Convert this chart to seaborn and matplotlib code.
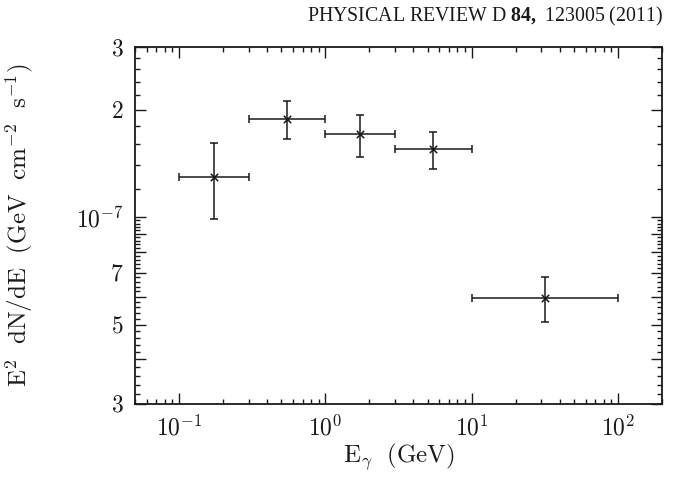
import numpy as np
import matplotlib
matplotlib.use("Agg")
import matplotlib.pyplot as plt
import seaborn as sns
from matplotlib.ticker import FixedLocator, NullFormatter

# ---- data ----
e_lo = [0.1, 0.3, 1.0, 3.0, 10.0]
e_hi = [0.3, 1.0, 3.0, 10.0, 100.0]
e_c = [0.173, 0.548, 1.73, 5.48, 31.6]
flux = [1.30e-7, 1.886e-7, 1.708e-7, 1.551e-7, 0.594e-7]
flux_hi = [1.61e-7, 2.113e-7, 1.939e-7, 1.734e-7, 0.680e-7]
flux_lo = [0.987e-7, 1.661e-7, 1.476e-7, 1.364e-7, 0.510e-7]

x_ticks = [0.1, 1, 10, 100]
x_ticklabels = [r'$10^{-1}$', r'$10^{0}$', r'$10^{1}$', r'$10^{2}$']
y_major = [3e-8, 4e-8, 5e-8, 6e-8, 7e-8, 8e-8, 9e-8, 1e-7, 2e-7, 3e-7]
y_ticklabels = [r'$3$', '', r'$5$', '', r'$7$', '', '', r'$10^{-7}$', r'$2$', r'$3$']

sns.set_theme(style='ticks')
plt.rcParams['font.family'] = ['Liberation Serif', 'DejaVu Serif']
plt.rcParams['mathtext.fontset'] = 'custom'
plt.rcParams['mathtext.rm'] = 'Liberation Serif'
plt.rcParams['mathtext.bf'] = 'Liberation Serif:bold'

ink = '#1a1a1a'
fig = plt.figure(figsize=(6.84, 4.8), dpi=100)
ax = fig.add_axes([135/684, 1-404/480, (662-135)/684, (404-47)/480])

xerr = [np.array(e_c) - np.array(e_lo), np.array(e_hi) - np.array(e_c)]
yerr = [np.array(flux) - np.array(flux_lo), np.array(flux_hi) - np.array(flux)]
ax.errorbar(e_c, flux, xerr=xerr, yerr=yerr, fmt='none', ecolor=ink,
            elinewidth=1.1, capsize=3, capthick=1.1)
sns.scatterplot(x=e_c, y=flux, marker='x', color=ink, s=28, linewidth=1.1, ax=ax,
                zorder=3)

ax.set_xscale('log')
ax.set_yscale('log')
ax.set_xlim(0.05, 200)
ax.set_ylim(3e-8, 3e-7)

# x ticks
ax.xaxis.set_major_locator(FixedLocator(x_ticks))
ax.set_xticklabels(x_ticklabels, math_fontfamily='cm', fontsize=17, color=ink)
xminor = [m * 10.0**k for k in range(-2, 3) for m in range(2, 10)]
ax.xaxis.set_minor_locator(FixedLocator([v for v in xminor if 0.05 <= v <= 200]))
ax.xaxis.set_minor_formatter(NullFormatter())

# y ticks
ax.yaxis.set_major_locator(FixedLocator(y_major))
ax.set_yticklabels(y_ticklabels, math_fontfamily='cm', fontsize=17, color=ink)
yminor = [v * 1e-9 for v in range(32, 100, 2) if v % 10 != 0] + \
         [v * 1e-8 for v in range(12, 30, 2) if v % 10 != 0]
ax.yaxis.set_minor_locator(FixedLocator(yminor))
ax.yaxis.set_minor_formatter(NullFormatter())

ax.tick_params(which='both', direction='in', top=True, right=True, color=ink)
ax.tick_params(which='major', length=8, width=1.0, pad=8)
ax.tick_params(which='minor', length=3.3, width=1.0)
for s in ax.spines.values():
    s.set_color(ink)
    s.set_linewidth(1.3)

ax.set_xlabel(r'$\mathrm{E_\gamma\ \ (GeV)}$', math_fontfamily='cm', fontsize=18, color=ink)
ax.set_ylabel(r'$\mathrm{E^2\ \ dN/dE\ \ (GeV\ \ cm^{-2}\ \ s^{-1})}$', math_fontfamily='cm',
              fontsize=18, color=ink)
ax.xaxis.set_label_coords(0.5, -0.105)
ax.yaxis.set_label_coords(-0.19, 0.5)

fig.text(663/684, 1-21/480, r'PHYSICAL REVIEW D $\mathbf{84,}$ 123005 (2011)',
         ha='right', va='baseline', fontsize=14.3, color=ink)

fig.savefig('out.png', dpi=100)
